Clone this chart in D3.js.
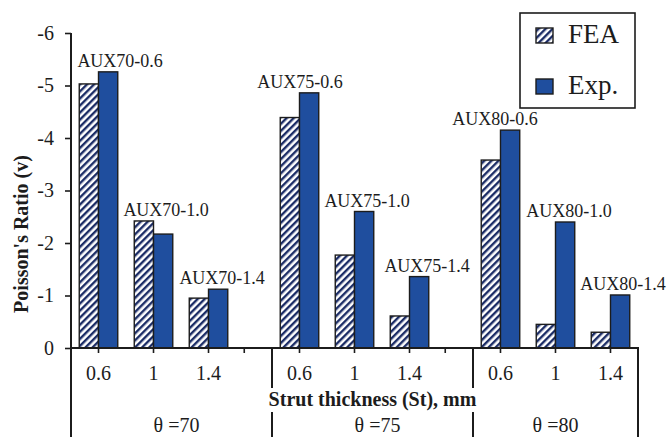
<!DOCTYPE html>
<html>
<head>
<meta charset="utf-8">
<script src="https://cdn.jsdelivr.net/npm/d3@7"></script>
<style>
  body { margin: 0; background: #fff; }
  svg { display: block; font-family: "Liberation Serif", "Times New Roman", serif; }
</style>
</head>
<body>
<svg id="chart" width="668" height="437"></svg>
<script>
// values
const groups = ["70", "75", "80"];
const thickness = ["0.6", "1", "1.4"];
const series = ["FEA", "Exp."];
const feaValues = [-5.03, -2.42, -0.95, -4.39, -1.77, -0.61, -3.58, -0.45, -0.30];
const expValues = [-5.26, -2.17, -1.12, -4.86, -2.60, -1.36, -4.15, -2.40, -1.01];
const barLabels = ["AUX70-0.6", "AUX70-1.0", "AUX70-1.4",
                   "AUX75-0.6", "AUX75-1.0", "AUX75-1.4",
                   "AUX80-0.6", "AUX80-1.0", "AUX80-1.4"];
const yTicks = [0, -1, -2, -3, -4, -5, -6];

// layout
const W = 668, H = 437;
const plotL = 71, plotR = 638, plotT = 33, zeroY = 348;
const ink = "#1c1c1c", blue = "#1f4e9e", navy = "#1b2c66";
// hand nudges for the bar annotations (they were placed by hand in the original)
const labelDx = [12, 3, 4, -9, 3, 8, -15, 4, 3];

const svg = d3.select("#chart");

const y = d3.scaleLinear().domain([0, -6]).range([zeroY, plotT]);
const xGroup = d3.scaleBand().domain(groups).range([plotL, plotR])
  .paddingInner(0.179).paddingOuter(0);
const xThick = d3.scaleBand().domain(thickness).range([0, xGroup.bandwidth()])
  .paddingInner(0.3).paddingOuter(0.15);
const xSeries = d3.scaleBand().domain(series).range([0, xThick.bandwidth()]);

// hatch pattern
const defs = svg.append("defs");
const pat = defs.append("pattern")
  .attr("id", "hatch")
  .attr("patternUnits", "userSpaceOnUse")
  .attr("width", 5).attr("height", 5)
  .attr("patternTransform", "rotate(45)");
pat.append("rect").attr("width", 5).attr("height", 5).attr("fill", "#fff");
pat.append("rect").attr("width", 2.4).attr("height", 5).attr("fill", navy);

// rows
const rows = [];
groups.forEach((g, gi) => {
  thickness.forEach((t, ti) => {
    const i = gi * thickness.length + ti;
    rows.push({g: g, t: t, i: i, fea: feaValues[i], exp: expValues[i], label: barLabels[i]});
  });
});

// bars
const bars = svg.append("g");
rows.forEach(r => {
  const gx = xGroup(r.g) + xThick(r.t);
  [["FEA", r.fea, "url(#hatch)"], ["Exp.", r.exp, blue]].forEach(s => {
    bars.append("rect")
      .attr("x", gx + xSeries(s[0]))
      .attr("y", y(s[1]))
      .attr("width", xSeries.bandwidth())
      .attr("height", zeroY - y(s[1]))
      .attr("fill", s[2])
      .attr("stroke", ink)
      .attr("stroke-width", 1.4);
  });
});

// bar annotations
svg.append("g").selectAll("text")
  .data(rows)
  .join("text")
  .attr("x", d => xGroup(d.g) + xThick(d.t) + xSeries("Exp.") + xSeries.bandwidth() / 2 + labelDx[d.i])
  .attr("y", d => y(Math.min(d.fea, d.exp)) - 5)
  .attr("text-anchor", "middle")
  .attr("font-size", 18)
  .attr("fill", ink)
  .text(d => d.label);

// y axis
const yAxis = svg.append("g")
  .attr("transform", "translate(" + plotL + ",0)")
  .call(d3.axisLeft(y).tickValues(yTicks).tickSize(6).tickPadding(11)
    .tickFormat(d => String(d)));
yAxis.select(".domain").remove();
yAxis.selectAll(".tick line").attr("stroke", ink).attr("stroke-width", 1.6);
yAxis.selectAll(".tick text")
  .attr("font-family", "Liberation Serif, Times New Roman, serif")
  .attr("font-size", 20).attr("fill", ink);

// x axis, one per group
groups.forEach((g, gi) => {
  const ax = svg.append("g")
    .attr("transform", "translate(" + xGroup(g) + "," + zeroY + ")")
    .call(d3.axisBottom(xThick).tickSize(5).tickPadding(13).tickSizeOuter(0));
  ax.select(".domain").remove();
  ax.selectAll(".tick line").attr("stroke", ink).attr("stroke-width", 1.6);
  ax.selectAll(".tick text")
    .attr("font-family", "Liberation Serif, Times New Roman, serif")
    .attr("font-size", 20).attr("fill", ink);
  // tick in the empty slot after each group but the last
  if (gi < groups.length - 1) {
    const lastC = xGroup(g) + xThick(thickness[thickness.length - 1]) + xThick.bandwidth() / 2;
    const gx = (lastC + xGroup(groups[gi + 1])) / 2 + 4;
    svg.append("line")
      .attr("x1", gx).attr("x2", gx)
      .attr("y1", zeroY).attr("y2", zeroY + 5)
      .attr("stroke", ink).attr("stroke-width", 1.6);
  }
});

// axis lines
const lines = svg.append("g").attr("stroke", ink).attr("stroke-width", 2);
lines.append("line").attr("x1", plotL).attr("x2", plotL).attr("y1", plotT).attr("y2", H);
lines.append("line").attr("x1", plotL - 1).attr("x2", plotR + 1).attr("y1", zeroY).attr("y2", zeroY);
lines.append("line").attr("x1", plotR).attr("x2", plotR).attr("y1", zeroY).attr("y2", H);
groups.slice(1).forEach(g => {
  lines.append("line").attr("x1", xGroup(g)).attr("x2", xGroup(g)).attr("y1", zeroY).attr("y2", 388);
  lines.append("line").attr("x1", xGroup(g)).attr("x2", xGroup(g)).attr("y1", 412).attr("y2", H);
});

// group labels
svg.append("g").selectAll("text")
  .data(groups)
  .join("text")
  .attr("x", (g, i) => {
    const a = i === 0 ? plotL : xGroup(g);
    const b = i < groups.length - 1 ? xGroup(groups[i + 1]) : plotR;
    return (a + b) / 2 + (i < groups.length - 1 ? 5 : 0);
  })
  .attr("y", 432)
  .attr("text-anchor", "middle")
  .attr("font-size", 20)
  .attr("fill", ink)
  .text(g => "\u03b8 =" + g);

// axis titles
svg.append("text")
  .attr("x", (xGroup(groups[1]) + xGroup(groups[2])) / 2)
  .attr("y", 406)
  .attr("text-anchor", "middle")
  .attr("font-size", 20)
  .attr("font-weight", "bold")
  .attr("fill", ink)
  .text("Strut thickness (St), mm");

svg.append("text")
  .attr("transform", "translate(28,234) rotate(-90)")
  .attr("text-anchor", "middle")
  .attr("font-size", 20)
  .attr("font-weight", "bold")
  .attr("fill", ink)
  .text("Poisson's Ratio (v)");

// legend
const legend = svg.append("g");
legend.append("rect")
  .attr("x", 520).attr("y", 13).attr("width", 115).attr("height", 95)
  .attr("fill", "#fff").attr("stroke", ink).attr("stroke-width", 1.6);
series.forEach((s, i) => {
  legend.append("rect")
    .attr("x", 536).attr("y", 28 + i * 51)
    .attr("width", 17).attr("height", 15)
    .attr("fill", i === 0 ? "url(#hatch)" : blue)
    .attr("stroke", ink).attr("stroke-width", 1.4);
  legend.append("text")
    .attr("x", 568).attr("y", 43 + i * 51)
    .attr("font-size", 27)
    .attr("fill", ink)
    .text(s);
});
</script>
</body>
</html>
